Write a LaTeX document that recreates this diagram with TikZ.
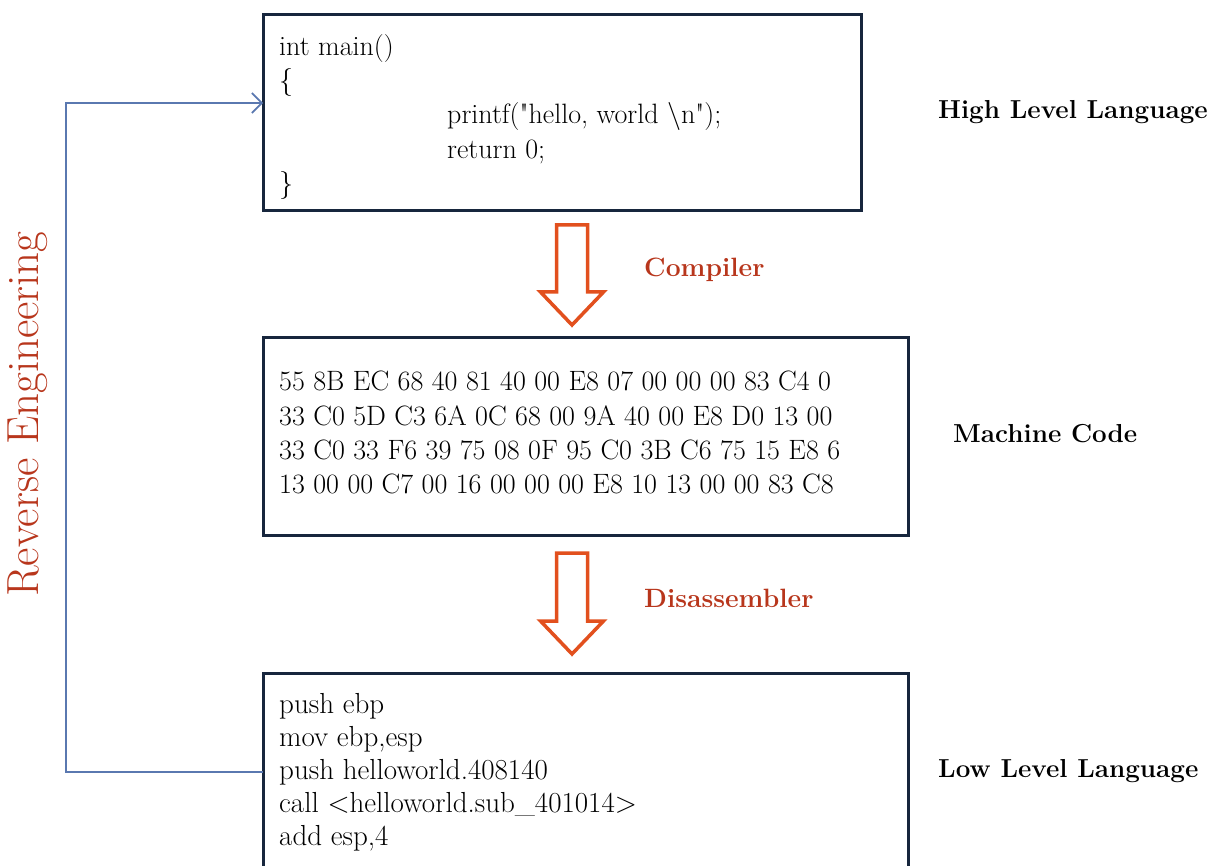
\documentclass[tikz,border=0pt]{standalone}
\usetikzlibrary{arrows.meta,calc}
\definecolor{boxline}{HTML}{17263D}
\definecolor{loopblue}{HTML}{5A78B0}
\definecolor{stepred}{HTML}{B8361C}
\definecolor{arroworange}{HTML}{E2501E}
\tikzset{
  codebox/.style={draw=boxline, line width=3pt, fill=white, inner sep=0pt, outer sep=0pt, anchor=north west},
  codetext/.style={anchor=north west, inner sep=0pt, align=left, font=\fontsize{28}{34.3}\selectfont},
  levellabel/.style={anchor=west, inner sep=0pt, font=\fontsize{26}{30}\selectfont\bfseries},
  steplabel/.style={anchor=west, inner sep=0pt, text=stepred, font=\fontsize{26.5}{30}\selectfont\bfseries},
  hollowarrow/.style={draw=arroworange, line width=3.5pt, line join=miter, fill=white},
  loopline/.style={draw=loopblue, line width=2pt, -{Straight Barb[length=10pt,width=20pt,line width=1.6pt]}}
}
\begin{document}
\begin{tikzpicture}[x=1pt,y=-1pt]
\clip (0,0) rectangle (1222,866);
\fill[white] (0,0) rectangle (1222,866);

% the three code boxes
\node[codebox, minimum width=598pt, minimum height=196pt] (high) at (263,15) {};
\node[codebox, minimum width=645pt, minimum height=198pt] (mach) at (263,337) {};
\node[codebox, minimum width=645pt, minimum height=230pt] (low) at (263,673) {};

% box contents
\node[codetext] (hightext) at (279,34) {int main()\\
{\char`\{}\\
\hspace*{168pt}printf(\textquotedbl hello, world \textbackslash n\textquotedbl);\\
\hspace*{168pt}return 0;\\
{\char`\}}};
\node[codetext] (machtext) at (279,371) {55 8B EC 68 40 81 40 00 E8 07 00 00 00 83 C4 0\\
33 C0 5D C3 6A 0C 68 00 9A 40 00 E8 D0 13 00\\
33 C0 33 F6 39 75 08 0F 95 C0 3B C6 75 15 E8 6\\
13 00 00 C7 00 16 00 00 00 E8 10 13 00 00 83 C8};
\node[codetext, font=\fontsize{29}{33}\selectfont] (lowtext) at (279,693) {push ebp\\
mov ebp,esp\\
push helloworld.408140\\
call <helloworld.sub\_401014>\\
add esp,4};

% level labels on the right
\node[levellabel] (highlab) at (938,112) {High Level Language};
\node[levellabel] (machlab) at (953,434) {Machine Code};
\node[levellabel] (lowlab) at (938,771) {Low Level Language};

% hollow arrows between the boxes
\coordinate (c1) at (572,225);
\coordinate (c2) at (572,553);
\draw[hollowarrow] ($(c1)+(-15.5,0)$) -- ++(0,67) -- ++(-16,0) -- (572,325) -- (603.5,292) -- ++(-16,0) -- ++(0,-67) -- cycle;
\draw[hollowarrow] ($(c2)+(-15.5,0)$) -- ++(0,68) -- ++(-16,0) -- (572,654) -- (603.5,621) -- ++(-16,0) -- ++(0,-68) -- cycle;
\node[steplabel] (complab) at (644,270) {Compiler};
\node[steplabel] (disalab) at (644,598) {Disassembler};

% reverse engineering loop back to the top
\coordinate (loopa) at (66,772);
\coordinate (loopb) at (66,103);
\draw[loopline] (low.west |- loopa) -- (loopa) -- (loopb) -- (high.west |- loopb);
\node[rotate=90, inner sep=0pt, text=stepred, font=\fontsize{45}{50}\selectfont] (revlab) at (28,414) {Reverse Engineering};
\end{tikzpicture}
\end{document}
